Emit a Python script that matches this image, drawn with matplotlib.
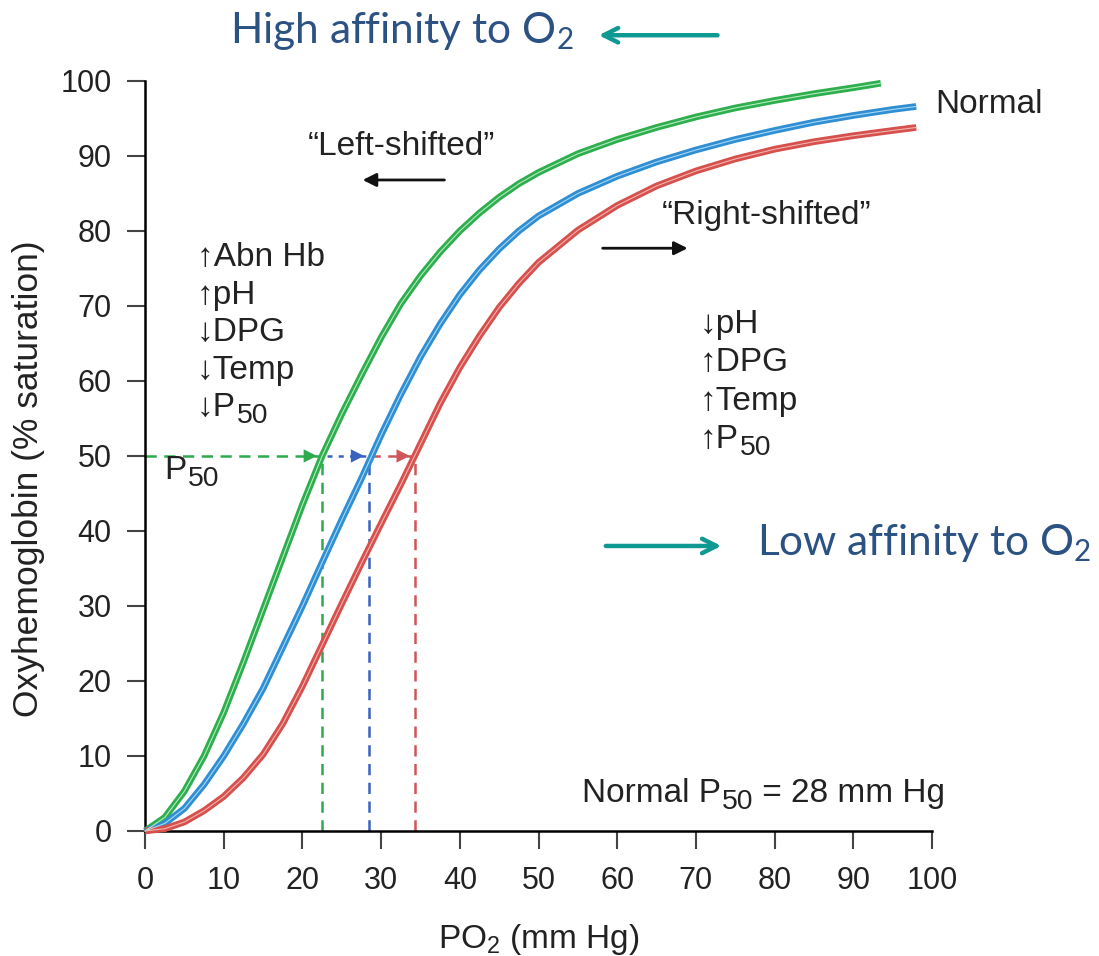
import numpy as np
import matplotlib
matplotlib.use("Agg")
import matplotlib.pyplot as plt

plt.rcParams['font.family'] = ['Liberation Sans', 'DejaVu Sans']
plt.rcParams['mathtext.fontset'] = 'custom'
plt.rcParams['mathtext.rm'] = 'Liberation Sans'
plt.rcParams['mathtext.sf'] = 'Lato'

# curves (PO2 in mm Hg, saturation in %)
left_x = [0, 2.5, 5, 7.5, 10, 12.5, 15, 17.5, 20, 22.5, 25, 27.5, 30, 32.5, 35,
          37.5, 40, 42.5, 45, 47.5, 50, 55, 60, 65, 70, 75, 80, 85, 90, 93.5]
left_y = [0, 1.8, 5.3, 10, 15.8, 22.5, 29.5, 36.5, 43.5, 50, 55.6, 60.8, 65.8, 70.3, 74,
          77.2, 80, 82.4, 84.5, 86.3, 87.8, 90.3, 92.2, 93.8, 95.2, 96.4, 97.4, 98.3, 99.1, 99.7]

normal_x = [0, 2.5, 5, 7.5, 10, 12.5, 15, 17.5, 20, 22.5, 25, 27.5, 30, 32.5, 35,
            37.5, 40, 42.5, 45, 47.5, 50, 55, 60, 65, 70, 75, 80, 85, 90, 95, 98]
normal_y = [0, 1, 3, 6.2, 10, 14.3, 19, 24.5, 30, 35.8, 41.5, 47, 52.8, 58.2, 63.2,
            67.6, 71.5, 74.8, 77.6, 80, 82, 85, 87.3, 89.2, 90.8, 92.2, 93.4, 94.5, 95.4, 96.2, 96.6]

right_x = [0, 2.5, 5, 7.5, 10, 12.5, 15, 17.5, 20, 22.5, 25, 27.5, 30, 32.5, 35,
           37.5, 40, 42.5, 45, 47.5, 50, 55, 60, 65, 70, 75, 80, 85, 90, 95, 98]
right_y = [0, 0.3, 1.2, 2.7, 4.6, 7.1, 10.2, 14.3, 19.3, 24.8, 30.3, 35.7, 41, 46.2, 51.6,
           57, 61.8, 66, 69.8, 73, 75.8, 80.1, 83.4, 86, 88, 89.6, 90.9, 91.9, 92.7, 93.4, 93.8]

# P50 values
p50_left = 22.5
p50_normal = 28.5
p50_right = 34.3

ticks = [0, 10, 20, 30, 40, 50, 60, 70, 80, 90, 100]

fig = plt.figure(figsize=(10.99, 9.56), dpi=100)
ax = fig.add_axes([0.132, 0.1308, 0.716, 0.7845])

green, blue, red = '#2fae4e', '#2f8fd2', '#d6504d'
ink = '#222222'

# dashed P50 guides
ax.plot([0, p50_left], [50, 50], color='#2eaa4f', lw=1.8, dashes=(4.5, 3))
ax.plot([p50_left, p50_left], [0, 50], color='#2eaa4f', lw=1.8, dashes=(4.5, 3))
ax.plot([p50_left + 0.6, p50_normal], [50, 50], color='#3a62c0', lw=1.8, dashes=(2, 2.5))
ax.plot([p50_normal, p50_normal], [0, 50], color='#3a62c0', lw=1.8, dashes=(4.5, 3))
ax.plot([p50_normal, p50_right], [50, 50], color='#d0555a', lw=1.8, dashes=(4.5, 3))
ax.plot([p50_right, p50_right], [0, 50], color='#d0555a', lw=1.8, dashes=(4.5, 3))
for xe, c in [(p50_left - 0.3, '#2eaa4f'), (p50_normal - 0.3, '#3a62c0'), (p50_right - 0.3, '#d0555a')]:
    ax.annotate('', xy=(xe, 50), xytext=(xe - 2.5, 50),
                arrowprops=dict(arrowstyle='-|>', color=c, lw=0, mutation_scale=24))

# curves: thick coloured line with a pale stripe in the middle
for xs, ys, c, light in [(left_x, left_y, green, '#b4ebc0'),
                         (normal_x, normal_y, blue, '#a6d8f6'),
                         (right_x, right_y, red, '#f3b3ae')]:
    ax.plot(xs, ys, color=c, lw=4.8, solid_capstyle='butt', clip_on=False, zorder=3)
    ax.plot(xs, ys, color=light, lw=0.8, clip_on=False, zorder=4)

ax.set_xlim(0, 100)
ax.set_ylim(0, 100)
ax.set_xticks(ticks)
ax.set_yticks(ticks)
ax.tick_params(labelsize=22, length=13, width=1.5, color='#444444', labelcolor=ink)
ax.tick_params(axis='y', pad=11)
ax.tick_params(axis='x', pad=12)
for s in ['top', 'right']:
    ax.spines[s].set_visible(False)
for s in ['left', 'bottom']:
    ax.spines[s].set_linewidth(1.8)

ax.set_xlabel('PO$_2$ (mm Hg)', fontsize=24, color=ink, labelpad=19)
ax.set_ylabel('Oxyhemoglobin (% saturation)', fontsize=25.5, color=ink)
ax.yaxis.set_label_coords(-0.127, 0.47)

FS = 24


def sub_text(x, y, main, sub, rest=''):
    # main text, larger-than-mathtext subscript, then the rest on the main baseline
    t = ax.text(x, y, main, va='center', fontsize=FS, color=ink, clip_on=False)
    s = ax.annotate(sub, xy=(1, 0), xycoords=t, xytext=(0.5, 0), textcoords='offset points',
                    va='baseline', fontsize=FS * 0.85, color=ink)
    if rest:
        ax.annotate(rest, xy=(1, 0), xycoords=(s, t), va='bottom', fontsize=FS, color=ink)


ax.text(20.7, 91.2, '\u201cLeft-shifted\u201d', va='center', fontsize=FS, color=ink)
ax.annotate('', xy=(27.3, 86.8), xytext=(38.4, 86.8),
            arrowprops=dict(arrowstyle='-|>', color='#111111', lw=2, mutation_scale=20))
ax.text(65.6, 82.1, '\u201cRight-shifted\u201d', va='center', fontsize=FS, color=ink)
ax.annotate('', xy=(69.3, 77.7), xytext=(57.8, 77.7),
            arrowprops=dict(arrowstyle='-|>', color='#111111', lw=2, mutation_scale=20))

left_lines = ['\u2191Abn Hb', '\u2191pH', '\u2193DPG', '\u2193Temp']
for i, s in enumerate(left_lines):
    ax.text(6.6, 76.4 - 5 * i, s, va='center', fontsize=FS, color=ink)
sub_text(6.6, 56.4, '\u2193P', '50')

right_lines = ['\u2193pH', '\u2191DPG', '\u2191Temp']
for i, s in enumerate(right_lines):
    ax.text(70.5, 67.5 - 5.1 * i, s, va='center', fontsize=FS, color=ink)
sub_text(70.5, 52.2, '\u2191P', '50')

sub_text(2.5, 48.0, 'P', '50')
ax.text(100.4, 96.8, 'Normal', va='center', fontsize=FS, color=ink, clip_on=False)
sub_text(55.5, 5.0, 'Normal P', '50', ' = 28 mm Hg')

teal = '#0e9a92'
navy = '#2c5283'
ax.text(10.8, 106.6, 'High affinity to O$_\\mathsf{2}$', va='center', fontsize=30.5, color=navy,
        family='Lato', clip_on=False)
ax.annotate('', xy=(57.3, 106.1), xytext=(73.1, 106.1), annotation_clip=False,
            arrowprops=dict(arrowstyle='->', color=teal, lw=3.2, mutation_scale=26))
ax.text(77.8, 38.4, 'Low affinity to O$_\\mathsf{2}$', va='center', fontsize=30.5, color=navy,
        family='Lato', clip_on=False)
ax.annotate('', xy=(73.6, 38.0), xytext=(58.2, 38.0), annotation_clip=False,
            arrowprops=dict(arrowstyle='->', color=teal, lw=3.2, mutation_scale=26))

fig.savefig('out.png', dpi=100)
